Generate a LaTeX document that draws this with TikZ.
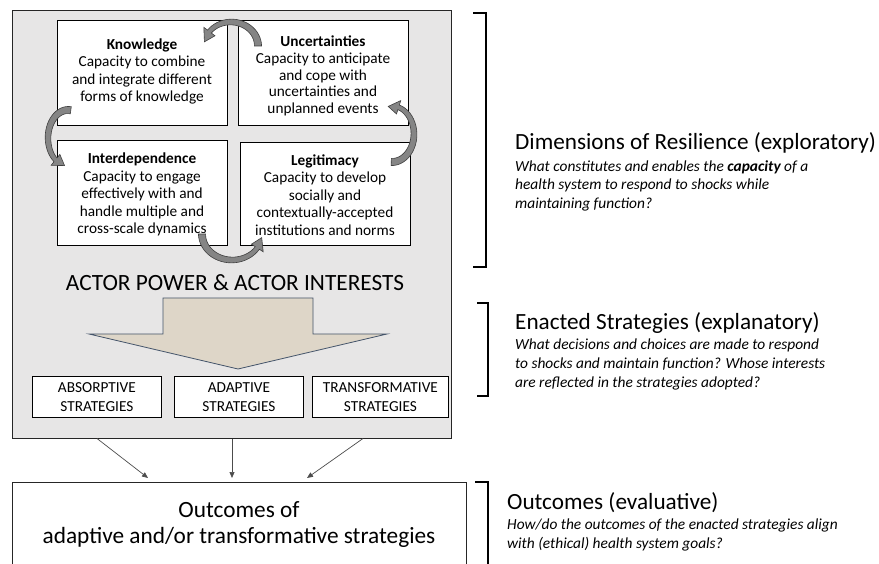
\documentclass[tikz,border=0pt]{standalone}
\usepackage{fontspec}
\setmainfont{Carlito}
\usetikzlibrary{arrows.meta}
\definecolor{panelgray}{RGB}{231,230,230}
\definecolor{arrowbeige}{RGB}{222,214,200}
\definecolor{arrowedge}{RGB}{68,84,106}
\newcommand\carrow[6]{%
 \pgfmathsetmacro\cdir{(#6>#5)?1:-1}%
 \pgfmathsetmacro\chd{\cdir*12/((#3+#4)/2)*57.3}%
 \pgfmathsetmacro\cae{#6-\chd}%
 \filldraw[carrowstyle] plot[domain=0:1,samples=24] ({#1+(#3+3.6-1.2*\x)*cos(#5+\x*(\cae-#5))},{#2+(#4+3.6-1.2*\x)*sin(#5+\x*(\cae-#5))})
 -- ({#1+(#3+7)*cos(\cae)},{#2+(#4+7)*sin(\cae)})
 -- ({#1+#3*cos(#6)},{#2+#4*sin(#6)})
 -- ({#1+(#3-7)*cos(\cae)},{#2+(#4-7)*sin(\cae)})
 -- plot[domain=1:0,samples=24] ({#1+(#3-3.6+1.2*\x)*cos(#5+\x*(\cae-#5))},{#2+(#4-3.6+1.2*\x)*sin(#5+\x*(\cae-#5))})
 -- cycle;}
\begin{document}
\begin{tikzpicture}[x=1pt,y=-1pt,
 panel/.style={draw=black!85, line width=0.8pt, fill=panelgray, anchor=north west, inner sep=0pt},
 capbox/.style={draw=black, line width=0.8pt, fill=white, minimum width=170pt, minimum height=105pt, anchor=north west, inner sep=0pt},
 captext/.style={align=center, font=\fontsize{15.3}{17.6}\selectfont, inner sep=0pt},
 stratbox/.style={draw=black, line width=0.8pt, fill=white, minimum height=41pt, anchor=north west, inner sep=0pt, align=center, font=\fontsize{15.3}{19}\selectfont},
 carrowstyle/.style={fill=black!48, draw=black!75, line width=0.6pt},
 flow/.style={draw=black!70, line width=0.7pt, -{Triangle[length=6pt,width=5pt]}},
 bracket/.style={draw=black, line width=1.8pt},
 headtext/.style={anchor=base west, inner sep=0pt, font=\fontsize{23.2}{27}\selectfont},
 subtext/.style={anchor=north west, inner sep=0pt, align=left, font=\fontsize{15.4}{18.7}\selectfont\itshape}
]
\useasboundingbox (0,0) rectangle (879,564);
\clip (0,0) rectangle (879,564);

% panel
\node[panel, minimum width=439pt, minimum height=428pt] (panel) at (12,10) {};

% capacity boxes
\node[capbox] (know) at (57,20) {};
\node[capbox, minimum width=170pt] (unc) at (238,20) {};
\node[capbox] (inter) at (57,140) {};
\node[capbox, minimum height=103pt] (legit) at (240,142) {};

\node[captext] (knowt) at (142,71.5) {\textbf{Knowledge}\\Capacity to combine\\and integrate different\\forms of knowledge};
\node[captext, font=\fontsize{15.3}{16.8}\selectfont] (unct) at (323,76) {\textbf{Uncertainties}\\Capacity to anticipate\\and cope with\\uncertainties and\\unplanned events};
\node[captext] (intert) at (142,194.5) {\textbf{Interdependence}\\Capacity to engage\\effectively with and\\handle multiple and\\cross-scale dynamics};
\node[captext] (legitt) at (325,195) {\textbf{Legitimacy}\\Capacity to develop\\socially and\\contextually-accepted\\institutions and norms};

% curved arrows (cycle)
\carrow{231}{46}{27}{24}{360}{190}
\carrow{68}{138}{20}{28}{278}{100}
\carrow{232}{234}{30}{26}{180}{8}
\carrow{392}{134}{22}{28}{92}{-100}

% actor power
\node[inner sep=0pt, font=\fontsize{23.3}{27}\selectfont] (actor) at (235,283) {ACTOR POWER \& ACTOR INTERESTS};

% block arrow
\draw[fill=arrowbeige, draw=arrowedge, line width=0.8pt]
 (163,298) -- (313,298) -- (313,334) -- (387,334) -- (238,369) -- (89,334) -- (163,334) -- cycle;

% strategy boxes
\node[stratbox, minimum width=129pt] (abs) at (32,376) {ABSORPTIVE\\STRATEGIES};
\node[stratbox, minimum width=129pt] (adap) at (174,376) {ADAPTIVE\\STRATEGIES};
\node[stratbox, minimum width=136pt] (trans) at (312,376) {TRANSFORMATIVE\\STRATEGIES};

% outcomes box
\node[draw=black!85, line width=0.8pt, fill=white, anchor=north west, minimum width=454pt, minimum height=110pt, inner sep=0pt] (outc) at (12,482) {};
\node[align=center, inner sep=0pt, font=\fontsize{23.3}{25.5}\selectfont] (outct) at (239,524.5) {Outcomes of\\adaptive and/or transformative strategies};

% flows
\coordinate (f1s) at (97,438.5);
\coordinate (f1e) at (148,478);
\coordinate (f2s) at (232,438.5);
\coordinate (f2e) at (232,478);
\coordinate (f3s) at (363,438.5);
\coordinate (f3e) at (307,478);
\draw[flow] (f1s) -- (f1e);
\draw[flow] (f2s) -- (f2e);
\draw[flow] (f3s) -- (f3e);

% brackets
\coordinate (b1a) at (473,13); \coordinate (b1b) at (486,13);
\coordinate (b1c) at (486,267); \coordinate (b1d) at (473,267);
\draw[bracket] (b1a) -- (b1b) -- (b1c) -- (b1d);
\coordinate (b2a) at (477,303); \coordinate (b2b) at (488,303);
\coordinate (b2c) at (488,396); \coordinate (b2d) at (477,396);
\draw[bracket] (b2a) -- (b2b) -- (b2c) -- (b2d);
\coordinate (b3a) at (475,482); \coordinate (b3b) at (488,482);
\coordinate (b3c) at (488,580);
\draw[bracket] (b3a) -- (b3b) -- (b3c);

% right texts
\node[headtext] (dimh) at (515,150) {Dimensions of Resilience (exploratory)};
\node[subtext] (dims) at (515,160) {What constitutes and enables the \textbf{capacity} of a\\health system to respond to shocks while\\maintaining function?};
\node[headtext] (enah) at (515,330) {Enacted Strategies (explanatory)};
\node[subtext] (enas) at (515,339) {What decisions and choices are made to respond\\to shocks and maintain function? Whose interests\\are reflected in the strategies adopted?};
\node[headtext] (outh) at (507,509) {Outcomes (evaluative)};
\node[subtext] (outs) at (507,519) {How/do the outcomes of the enacted strategies align\\with (ethical) health system goals?};
\end{tikzpicture}
\end{document}
